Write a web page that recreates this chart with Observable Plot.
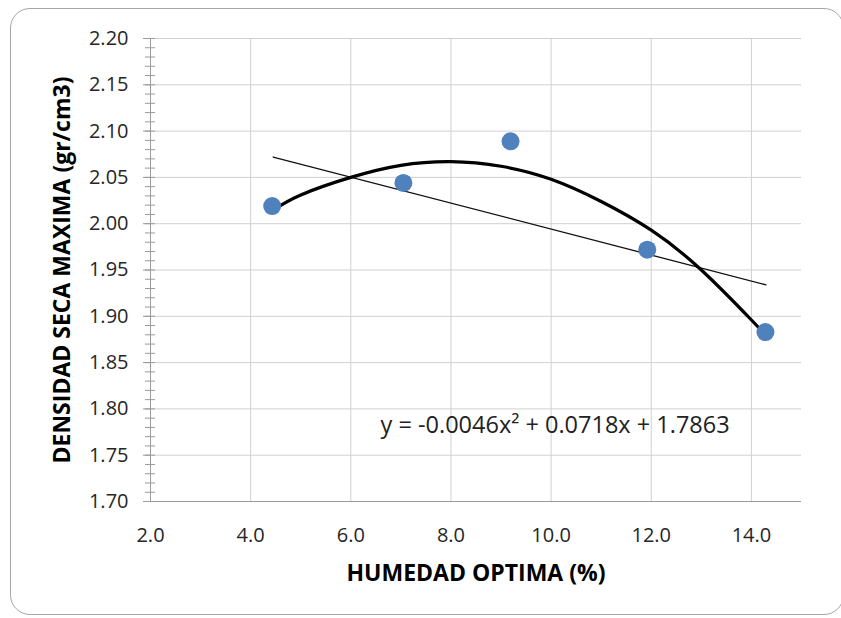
<!DOCTYPE html>
<html>
<head>
<meta charset="utf-8">
<script src="https://cdn.jsdelivr.net/npm/d3@7"></script>
<script src="https://cdn.jsdelivr.net/npm/@observablehq/plot@0.6"></script>
<style>
  html, body { margin: 0; padding: 0; background: #fff; }
  #wrap { position: relative; width: 841px; height: 618px; overflow: hidden; }
  #frame { position: absolute; left: 10px; top: 8px; width: 834px; height: 607px;
           border: 1px solid #a6a6a6; border-radius: 20px; box-sizing: border-box; }
  #chart { position: absolute; left: 0; top: 0; }
</style>
</head>
<body>
<div id="wrap"><div id="frame"></div><div id="chart"></div></div>
<script>
// Measured points
const humedad = [4.43, 7.05, 9.19, 11.92, 14.28];
const densidad = [2.019, 2.044, 2.089, 1.972, 1.883];

// Linear trend line
const linX = [4.45, 14.29];
const linY = [2.072, 1.934];

// Polynomial trend line
const polyX = [4.43, 5, 6, 7, 8, 9, 10, 11, 12, 13, 14, 14.28];
const polyY = [2.014, 2.031, 2.050, 2.063, 2.067, 2.062, 2.048, 2.024, 1.993, 1.950, 1.896, 1.880];

// Axis ticks
const xTicks = [2, 4, 6, 8, 10, 12, 14];
const yTicks = [1.70, 1.75, 1.80, 1.85, 1.90, 1.95, 2.00, 2.05, 2.10, 2.15, 2.20];
const yMinor = d3.range(170, 221).map(v => v / 100);

const equation = ["y = -0.0046x² + 0.0718x + 1.7863"];
const eqPos = {x: 10.08, y: 1.7826};
const xTitle = "HUMEDAD OPTIMA (%)";
const yTitle = "DENSIDAD SECA MAXIMA (gr/cm3)";

const points = humedad.map((x, i) => ({x, y: densidad[i]}));
const lin = linX.map((x, i) => ({x, y: linY[i]}));
const poly = polyX.map((x, i) => ({x, y: polyY[i]}));

const font = "'Open Sans', sans-serif";
const chart = Plot.plot({
  width: 841,
  height: 618,
  marginLeft: 150,
  marginRight: 40,
  marginTop: 38,
  marginBottom: 117,
  style: {fontFamily: font, background: "transparent"},
  x: {domain: [2, 15]},
  y: {domain: [1.70, 2.20]},
  marks: [
    Plot.gridX(xTicks, {stroke: "#d0d0d0", strokeOpacity: 1}),
    Plot.gridY(yTicks, {stroke: "#d0d0d0", strokeOpacity: 1}),
    Plot.ruleY(yMinor, {x1: 2, x2: 2, insetLeft: -5, insetRight: -5, stroke: "#9a9a9a"}),
    Plot.ruleX([2], {stroke: "#9a9a9a"}),
    Plot.ruleY([1.70], {stroke: "#9a9a9a"}),
    Plot.axisX(xTicks, {tickSize: 0, tickPadding: 26, tickFormat: d => d.toFixed(1),
      fontSize: 20, fill: "#262626", label: null}),
    Plot.axisY(yTicks, {tickSize: 7, tickPadding: 15, tickFormat: d => d.toFixed(2),
      fontSize: 20, fill: "#262626", stroke: "#9a9a9a", label: null}),
    Plot.line(lin, {x: "x", y: "y", stroke: "#111", strokeWidth: 1.3}),
    Plot.line(poly, {x: "x", y: "y", stroke: "#000", strokeWidth: 3.2, curve: "natural"}),
    Plot.dot(points, {x: "x", y: "y", r: 9, fill: "#4f81bd", stroke: "none"}),
    Plot.text(equation, {x: () => eqPos.x, y: () => eqPos.y, text: d => d, fontSize: 23.5,
      fill: "#222", textAnchor: "middle", lineAnchor: "middle"}),
    Plot.text([xTitle], {frameAnchor: "bottom", dy: 72, text: d => d, fontSize: 23,
      fontWeight: "bold", fill: "#000", textAnchor: "middle", lineAnchor: "middle"}),
    Plot.text([yTitle], {frameAnchor: "left", dx: -88, rotate: -90, text: d => d, fontSize: 23,
      fontWeight: "bold", fill: "#000", textAnchor: "middle", lineAnchor: "middle"})
  ]
});
document.getElementById("chart").appendChild(chart);
</script>
</body>
</html>
